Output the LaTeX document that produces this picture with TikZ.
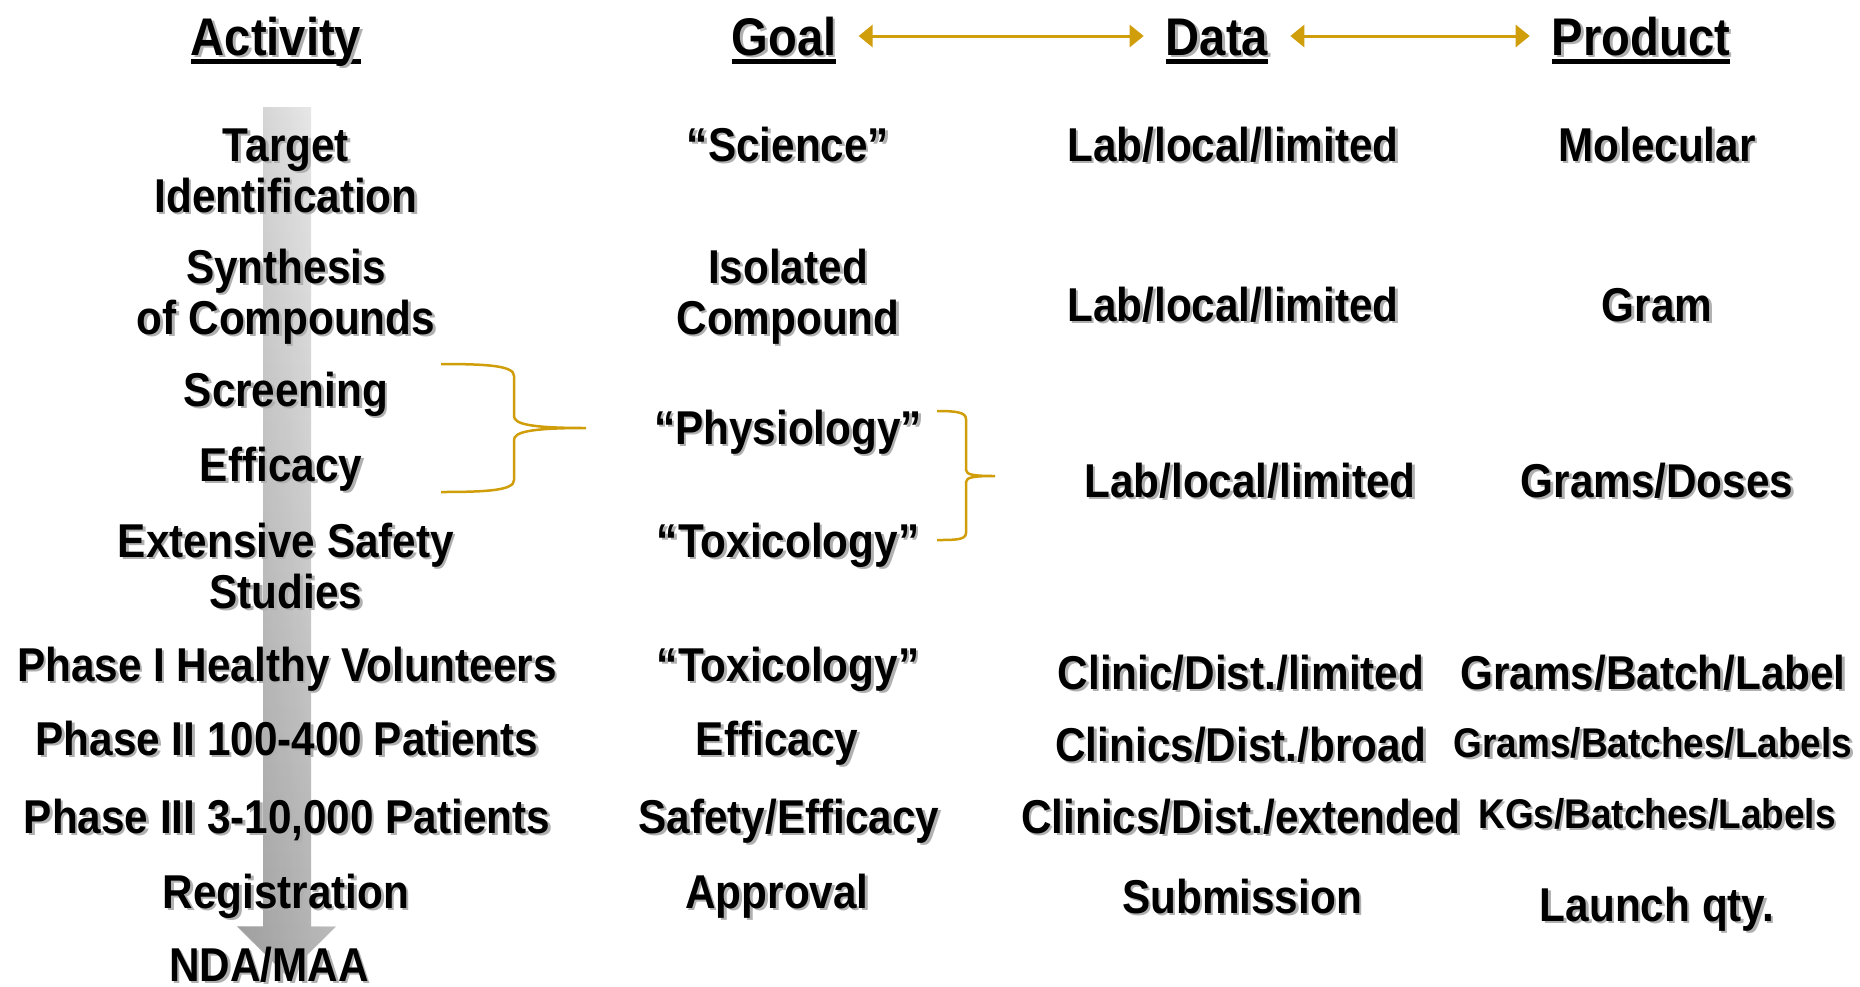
\documentclass[tikz,border=0pt]{standalone}
\usepackage{fontspec}
\newfontfamily\arb{Liberation Sans Bold}[FakeStretch=0.89]
\usetikzlibrary{arrows.meta,fadings}
\definecolor{gold}{HTML}{D09D0B}
\definecolor{shgray}{HTML}{B0B0B0}
\definecolor{aL}{gray}{0.80}
\definecolor{aR}{gray}{0.94}
\newcommand\sht[1]{\leavevmode\rlap{\hspace{2.5pt}\raisebox{-2.5pt}{\textcolor{shgray}{#1}}}#1}
\newcommand\hul[1]{\leavevmode\setbox0\hbox{#1}\rlap{\rule[-9pt]{\wd0}{5pt}}\box0}
\tikzset{
  txt/.style={inner sep=0pt, anchor=base, align=center, font=\arb\fontsize{47.5}{51}\selectfont},
  smalltxt/.style={txt, font=\arb\fontsize{41.5}{44}\selectfont},
  hdr/.style={txt, font=\arb\fontsize{53}{56}\selectfont},
  garrow/.style={draw=gold, line width=3pt, {Triangle[length=14pt,width=22pt]}-{Triangle[length=14pt,width=22pt]}},
  brace/.style={draw=gold, line width=2.5pt}
}
\begin{document}
\begin{tikzpicture}[x=1pt,y=-1pt]
\useasboundingbox (0,0) rectangle (1860,986);
% big gray process arrow
\shade[left color=aL, right color=aR]
  (263,107) -- (311,107) -- (311,926) -- (336,926) -- (286.5,975) -- (237,926) -- (263,926) -- cycle;
\fill[black, opacity=0.23, path fading=north]
  (263,107) -- (311,107) -- (311,926) -- (336,926) -- (286.5,975) -- (237,926) -- (263,926) -- cycle;
% headers
\node[hdr] (hact) at (276,55) {\hul{\sht{Activity}}};
\node[hdr] (hgoal) at (784,55) {\hul{\sht{Goal}}};
\node[hdr] (hdata) at (1217,55) {\hul{\sht{Data}}};
\node[hdr] (hprod) at (1641,55) {\hul{\sht{Product}}};
\draw[garrow] ([shift={(22pt,19pt)}]hgoal.base east) -- ([shift={(-22pt,19pt)}]hdata.base west);
\draw[garrow] ([shift={(22pt,19pt)}]hdata.base east) -- ([shift={(-22pt,19pt)}]hprod.base west);
% activity column (two-line nodes: y is the last line's baseline)
\node[txt] (a1) at (286,212) {\sht{Target}\\\sht{Identification}};
\node[txt] (a2) at (286,334) {\sht{Synthesis}\\\sht{of Compounds}};
\node[txt] (a3) at (286,406) {\sht{Screening}};
\node[txt] (a4) at (281,481) {\sht{Efficacy}};
\node[txt] (a5) at (286,608) {\sht{Extensive Safety}\\\sht{Studies}};
\node[txt] (a6) at (287,681) {\sht{Phase I Healthy Volunteers}};
\node[txt] (a7) at (287,755) {\sht{Phase II 100-400 Patients}};
\node[txt] (a8) at (287,833) {\sht{Phase III 3-10,000 Patients}};
\node[txt] (a9) at (286,908) {\sht{Registration}};
\node[txt] (a10) at (269,981) {\sht{NDA/MAA}};
% goal column
\node[txt] (g1) at (788,161) {\sht{“Science”}};
\node[txt] (g2) at (788,334) {\sht{Isolated}\\\sht{Compound}};
\node[txt] (g3) at (788,444) {\sht{“Physiology”}};
\node[txt] (g4) at (788,557) {\sht{“Toxicology”}};
\node[txt] (g5) at (788,681) {\sht{“Toxicology”}};
\node[txt] (g6) at (777,755) {\sht{Efficacy}};
\node[txt] (g7) at (789,833) {\sht{Safety/Efficacy}};
\node[txt] (g8) at (777,908) {\sht{Approval}};
% data column
\node[txt] (d1) at (1233,161) {\sht{Lab/local/limited}};
\node[txt] (d2) at (1233,321) {\sht{Lab/local/limited}};
\node[txt] (d3) at (1250,497) {\sht{Lab/local/limited}};
\node[txt] (d4) at (1241,689) {\sht{Clinic/Dist./limited}};
\node[txt] (d5) at (1241,761) {\sht{Clinics/Dist./broad}};
\node[txt] (d6) at (1241,833) {\sht{Clinics/Dist./extended}};
\node[txt] (d7) at (1242,913) {\sht{Submission}};
% product column
\node[txt] (p1) at (1657,161) {\sht{Molecular}};
\node[txt] (p2) at (1657,321) {\sht{Gram}};
\node[txt] (p3) at (1657,497) {\sht{Grams/Doses}};
\node[txt] (p4) at (1653,689) {\sht{Grams/Batch/Label}};
\node[smalltxt] (p5) at (1653,757) {\sht{Grams/Batches/Labels}};
\node[smalltxt] (p6) at (1657,828) {\sht{KGs/Batches/Labels}};
\node[txt] (p7) at (1657,921) {\sht{Launch qty.}};
% braces
\coordinate (b1top) at (441,364);
\coordinate (b1tip) at (586,428);
\coordinate (b1bot) at (441,492);
\draw[brace] (b1top) .. controls (490,364) and (514,366) .. (514,376) -- (514,416)
  .. controls (514,424) and (530,428) .. (b1tip)
  .. controls (530,428) and (514,432) .. (514,440) -- (514,480)
  .. controls (514,490) and (490,492) .. (b1bot);
\coordinate (b2top) at (937,411);
\coordinate (b2tip) at (995,476);
\coordinate (b2bot) at (937,540);
\draw[brace] (b2top) .. controls (955,411) and (966,412) .. (966,419) -- (966,470)
  .. controls (966,475) and (975,476) .. (b2tip)
  .. controls (975,476) and (966,477) .. (966,482) -- (966,533)
  .. controls (966,540) and (955,540) .. (b2bot);
\end{tikzpicture}
\end{document}
